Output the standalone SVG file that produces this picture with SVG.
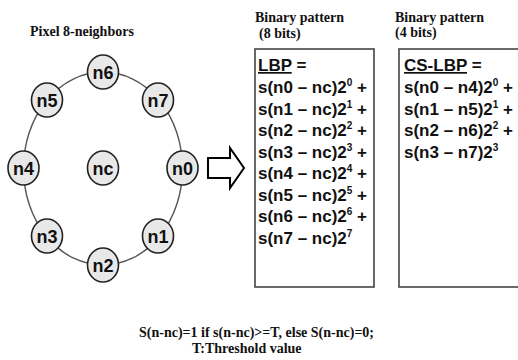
<svg xmlns="http://www.w3.org/2000/svg" width="518" height="360" viewBox="0 0 518 360">
  <style>
    .hdr { font-family: "Liberation Serif", "Times New Roman", serif; font-weight: bold; font-size: 14px; fill: #111; }
    .node ellipse { fill: #e8e8e8; stroke: #222; stroke-width: 1.6; }
    .node text { font-family: "Liberation Sans", Arial, sans-serif; font-weight: bold; font-size: 18px; fill: #111; text-anchor: middle; }
    .ring { fill: none; stroke: #555; stroke-width: 1.4; }
    .box { fill: #fff; stroke: #444; stroke-width: 1.6; }
    .f { font-family: "Liberation Sans", Arial, sans-serif; font-weight: bold; font-size: 17px; fill: #111; }
    .sup { font-size: 10px; }
    .note { font-family: "Liberation Serif", "Times New Roman", serif; font-weight: bold; font-size: 14px; fill: #111; }
  </style>
  <rect width="518" height="360" fill="#fff"/>

  <text class="hdr" x="30" y="36">Pixel 8-neighbors</text>

  <!-- ring through the neighbourhood -->
  <g id="connectors">
    <ellipse class="ring" cx="103" cy="168.5" rx="79.5" ry="96.5"/>
    <path id="arrow" d="M208,158 H230 V148 L244,168 L230,188 V178 H208 Z" fill="#fff" stroke="#000" stroke-width="2" stroke-linejoin="miter"/>
  </g>

  <g id="n6" class="node"><ellipse cx="103" cy="72" rx="15.5" ry="17"/><text x="103" y="78.5">n6</text></g>
  <g id="n5" class="node"><ellipse cx="47" cy="100" rx="15.5" ry="17"/><text x="47" y="106.5">n5</text></g>
  <g id="n7" class="node"><ellipse cx="158" cy="100" rx="15.5" ry="17"/><text x="158" y="106.5">n7</text></g>
  <g id="n4" class="node"><ellipse cx="23.5" cy="168" rx="15.5" ry="17"/><text x="23.5" y="174.5">n4</text></g>
  <g id="nc" class="node"><ellipse cx="103" cy="168" rx="15.5" ry="17"/><text x="103" y="174.5">nc</text></g>
  <g id="n0" class="node"><ellipse cx="182.5" cy="168" rx="15.5" ry="17"/><text x="182.5" y="174.5">n0</text></g>
  <g id="n3" class="node"><ellipse cx="47" cy="236" rx="15.5" ry="17"/><text x="47" y="242.5">n3</text></g>
  <g id="n1" class="node"><ellipse cx="158" cy="236" rx="15.5" ry="17"/><text x="158" y="242.5">n1</text></g>
  <g id="n2" class="node"><ellipse cx="103" cy="265" rx="15.5" ry="17"/><text x="103" y="271.5">n2</text></g>

  <!-- 8-bit LBP -->
  <g id="lbp">
    <text class="hdr" x="255" y="22">Binary pattern</text>
    <text class="hdr" x="259" y="38">(8 bits)</text>
    <rect class="box" x="255" y="49" width="119" height="238"/>
    <text class="f" x="258" y="71"><tspan text-decoration="underline">LBP</tspan> =</text>
    <text class="f" x="258" y="93">s(n0 – nc)2<tspan class="sup" dy="-7">0</tspan><tspan dy="7"> +</tspan></text>
    <text class="f" x="258" y="114.5">s(n1 – nc)2<tspan class="sup" dy="-7">1</tspan><tspan dy="7"> +</tspan></text>
    <text class="f" x="258" y="136">s(n2 – nc)2<tspan class="sup" dy="-7">2</tspan><tspan dy="7"> +</tspan></text>
    <text class="f" x="258" y="157.5">s(n3 – nc)2<tspan class="sup" dy="-7">3</tspan><tspan dy="7"> +</tspan></text>
    <text class="f" x="258" y="179">s(n4 – nc)2<tspan class="sup" dy="-7">4</tspan><tspan dy="7"> +</tspan></text>
    <text class="f" x="258" y="200.5">s(n5 – nc)2<tspan class="sup" dy="-7">5</tspan><tspan dy="7"> +</tspan></text>
    <text class="f" x="258" y="222">s(n6 – nc)2<tspan class="sup" dy="-7">6</tspan><tspan dy="7"> +</tspan></text>
    <text class="f" x="258" y="243.5">s(n7 – nc)2<tspan class="sup" dy="-7">7</tspan></text>
  </g>

  <!-- 4-bit CS-LBP -->
  <g id="cslbp">
    <text class="hdr" x="395" y="22">Binary pattern</text>
    <text class="hdr" x="395" y="37">(4 bits)</text>
    <rect class="box" x="399" y="49" width="130" height="238"/>
    <text class="f" x="404" y="71"><tspan text-decoration="underline">CS-LBP</tspan> =</text>
    <text class="f" x="404" y="93">s(n0 – n4)2<tspan class="sup" dy="-7">0</tspan><tspan dy="7"> +</tspan></text>
    <text class="f" x="404" y="114.5">s(n1 – n5)2<tspan class="sup" dy="-7">1</tspan><tspan dy="7"> +</tspan></text>
    <text class="f" x="404" y="136">s(n2 – n6)2<tspan class="sup" dy="-7">2</tspan><tspan dy="7"> +</tspan></text>
    <text class="f" x="404" y="157.5">s(n3 – n7)2<tspan class="sup" dy="-7">3</tspan></text>
  </g>

  <text class="note" x="139" y="337">S(n-nc)=1 if s(n-nc)&gt;=T, else S(n-nc)=0;</text>
  <text class="note" x="192" y="353">T:Threshold value</text>
</svg>
